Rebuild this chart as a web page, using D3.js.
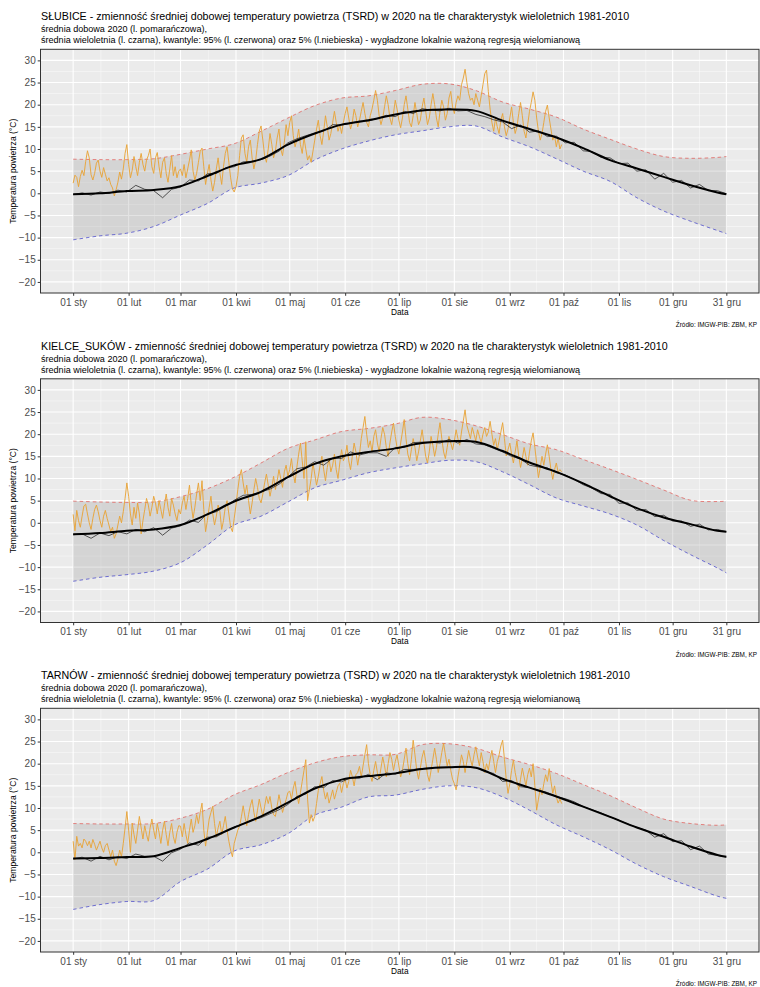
<!DOCTYPE html>
<html>
<head>
<meta charset="utf-8">
<script src="https://cdn.jsdelivr.net/npm/d3@7"></script>
<style>
  body { margin: 0; background: #fff; }
  svg { display: block; }
  text { font-family: "Liberation Sans", Arial, Helvetica, sans-serif; }
</style>
</head>
<body>
<svg id="chart" width="760" height="987"></svg>
<script>
// ---- data -------------------------------------------------------------
const stationNames = ["SŁUBICE", "KIELCE_SUKÓW", "TARNÓW"];

const tickDates = ["2020-01-01","2020-02-01","2020-03-01","2020-04-01","2020-05-01","2020-06-01",
  "2020-07-01","2020-08-01","2020-09-01","2020-10-01","2020-11-01","2020-12-01","2020-12-31"];
const tickLabels = ["01 sty","01 lut","01 mar","01 kwi","01 maj","01 cze",
  "01 lip","01 sie","01 wrz","01 paź","01 lis","01 gru","31 gru"];
const yTicks = [-20, -15, -10, -5, 0, 5, 10, 15, 20, 25, 30];

// day-of-year offsets (from 1 Jan) of the smoothed / quantile knots and of the multi-year daily means
const knotDays = [0,15,30,45,60,75,90,105,120,135,150,165,180,195,210,225,240,255,270,285,300,315,330,345,360,365];
const meanDays = d3.range(0, 366, 5);

// daily mean temperature 2020 (1 Jan - 30 Sep)
const slubiceDaily2020 = [
  2.3,4.1,3.6,1.5,3.8,5.2,4.0,7.2,9.6,8.0,4.2,3.0,4.5,6.8,7.5,5.0,3.6,5.8,4.3,2.8,3.5,2.0,1.2,-0.6,0.8,2.5,4.8,3.2,5.5,9.0,11.0,
  6.5,3.5,5.2,8.3,6.0,4.0,7.0,9.0,6.5,5.0,7.5,8.5,10.0,6.0,4.5,8.0,9.2,6.0,3.5,7.0,8.0,4.5,2.5,5.5,8.5,4.0,6.0,3.5,5.0,
  5.5,4.0,6.5,3.5,5.5,7.5,9.8,5.0,3.0,4.5,7.0,9.5,10.2,6.0,2.0,4.5,6.5,3.0,0.5,2.5,5.5,8.0,4.5,2.0,6.0,9.0,10.5,7.0,3.5,1.0,0.3,
  1.5,4.0,8.5,12.5,13.2,9.0,7.0,10.5,12.0,8.0,5.5,7.5,11.0,14.0,15.2,12.0,8.5,7.0,10.0,13.5,11.0,8.0,9.5,12.5,14.5,10.0,8.5,11.5,15.5,13.0,
  16.0,17.5,13.0,10.5,12.0,14.5,11.0,9.0,12.5,10.0,7.5,8.5,7.0,9.5,12.0,14.5,16.5,13.0,11.0,14.0,17.5,15.0,12.0,13.5,16.0,18.5,16.0,14.0,15.5,13.5,16.0,
  18.0,19.5,17.0,14.5,16.0,19.0,17.5,15.0,16.5,18.5,20.5,18.0,16.0,15.0,17.5,19.0,21.0,23.2,21.0,17.5,15.5,17.0,19.5,22.0,20.0,17.0,15.5,18.0,21.0,19.0,
  16.5,14.8,17.0,20.0,22.0,19.0,16.0,15.0,17.5,20.5,18.0,15.5,16.5,19.5,21.5,18.5,15.5,17.0,20.0,22.5,20.0,17.0,15.0,18.5,21.0,19.5,16.5,18.0,21.5,23.0,19.5,
  18.0,20.5,22.0,21.0,24.5,26.0,28.0,25.0,22.5,21.0,21.5,20.0,22.5,21.0,19.5,22.0,24.5,27.0,27.8,23.0,19.0,16.0,14.0,17.0,15.0,13.5,16.5,18.0,15.0,13.0,14.5,
  17.0,19.5,16.0,13.5,15.0,18.0,20.5,17.5,14.0,12.5,15.5,18.5,20.5,22.9,21.0,17.0,14.0,12.0,13.5,16.0,18.5,19.9,17.0,14.5,12.0,13.0,10.5,12.5,10.0,11.0
];
const kielceDaily2020 = [
  1.9,-1.8,2.8,0.5,-1.0,1.5,3.8,4.2,2.0,0.0,-1.5,1.0,3.0,4.0,2.5,0.5,-1.0,1.5,2.8,1.0,-0.5,-2.0,-1.0,-3.5,-2.5,-0.5,1.5,0.0,2.5,5.5,9.0,
  6.0,2.0,-0.5,3.5,1.0,4.5,2.0,-2.5,0.5,3.0,5.5,4.0,1.5,3.5,6.0,4.5,2.0,5.0,3.0,1.0,4.0,6.5,3.5,1.5,5.5,4.0,2.0,0.5,3.0,
  2.0,4.5,6.0,3.0,5.5,8.5,4.0,1.0,3.5,6.5,9.0,5.0,9.5,3.0,-2.0,0.5,3.5,6.0,2.0,-0.5,1.5,4.0,2.5,-1.5,0.5,3.5,5.0,2.0,-1.0,-2.0,1.0,
  4.0,7.5,10.5,12.0,9.0,6.5,8.5,5.0,2.0,4.5,7.5,10.0,8.0,5.5,4.5,6.5,9.0,11.0,8.5,6.0,8.0,10.5,7.5,9.5,12.0,10.0,8.0,11.5,13.0,10.5,
  12.0,14.5,11.0,9.0,12.5,15.5,18.0,14.0,10.0,18.3,5.0,7.5,10.0,13.5,11.0,8.5,10.5,13.0,15.0,12.0,9.5,12.5,14.5,11.5,13.0,15.5,12.0,10.0,13.5,16.5,14.0,
  15.0,17.5,14.0,12.0,15.0,18.0,16.0,13.0,15.5,19.0,21.5,24.0,20.0,17.0,18.5,16.0,19.5,21.0,18.0,16.0,19.0,21.5,20.0,17.0,15.0,18.0,20.5,22.5,19.5,17.0,
  15.5,18.0,20.5,23.3,19.0,15.5,14.0,16.5,19.0,17.0,14.0,16.0,18.5,21.0,18.0,15.0,13.5,16.0,19.5,17.5,15.0,17.0,20.0,22.6,19.0,16.0,14.5,17.0,19.5,18.0,16.5,
  18.5,21.0,19.0,17.5,20.5,23.0,25.5,22.0,20.5,19.0,21.5,20.0,18.5,21.0,19.5,18.0,20.0,21.5,19.5,20.5,22.9,20.0,17.5,19.0,16.5,18.5,20.5,22.6,19.0,15.1,16.5,
  18.0,15.5,13.5,16.0,18.5,15.0,12.5,14.5,17.0,15.0,13.0,16.0,18.5,20.3,17.0,13.5,10.2,12.5,15.0,13.0,15.5,17.6,15.0,12.0,9.8,12.0,13.5,11.4,12.0,11.5
];
const tarnowDaily2020 = [
  2.5,-1.7,3.6,1.4,2.0,1.0,3.0,2.5,1.5,2.5,1.0,2.9,1.8,0.5,1.5,2.5,1.0,0.0,1.5,2.0,0.5,-1.0,0.5,-2.0,-3.0,-1.5,0.5,-1.0,2.0,5.5,9.2,
  5.0,0.0,6.6,4.0,2.0,5.0,8.1,5.5,3.0,6.0,4.0,2.5,5.5,7.5,5.0,3.0,6.5,4.5,2.0,5.0,7.0,4.0,1.5,4.5,6.5,3.5,2.0,4.5,6.0,
  5.9,3.5,6.5,4.0,2.0,5.0,7.5,4.5,6.0,8.5,6.5,9.0,11.1,5.0,1.4,4.5,7.5,9.0,10.4,6.5,3.5,5.5,7.0,4.0,6.0,8.1,5.0,2.5,0.5,-1.0,2.0,
  3.5,5.0,5.9,8.0,10.5,8.0,6.0,8.5,10.5,11.9,9.0,7.0,9.5,12.0,10.0,8.0,10.4,12.6,11.0,12.6,10.0,8.5,8.1,10.5,13.0,11.0,9.0,10.5,11.9,13.5,
  13.8,12.0,14.5,16.0,13.0,11.0,13.5,16.0,18.5,20.9,12.0,6.6,8.5,7.0,8.1,11.0,14.0,15.5,17.1,14.0,12.0,13.5,11.1,12.5,14.1,12.0,13.5,15.0,15.6,13.5,15.5,
  16.5,14.5,16.0,18.5,17.1,15.0,17.5,18.0,19.4,17.0,19.5,22.0,24.3,20.0,17.5,16.0,18.5,20.5,18.0,16.5,19.0,21.5,19.5,17.0,20.0,22.5,21.0,18.5,20.5,22.0,
  19.5,17.0,18.5,21.0,23.5,20.0,17.5,21.0,25.3,22.0,18.5,16.5,19.0,21.5,23.0,20.5,17.5,16.0,18.5,21.0,23.5,21.0,18.0,20.0,22.5,24.6,22.0,19.5,21.0,18.5,16.5,
  15.5,14.1,17.0,19.5,22.0,20.5,18.0,20.5,23.0,21.0,19.5,22.0,23.8,21.5,19.5,22.5,20.5,18.0,20.0,18.6,21.0,23.0,20.5,18.0,20.5,22.0,24.0,25.3,21.0,16.5,13.3,
  15.5,18.5,20.8,18.0,16.0,14.1,16.5,19.0,17.0,15.0,17.5,19.0,17.0,20.0,15.0,9.5,12.0,14.5,13.0,15.5,17.5,16.0,18.9,16.0,13.3,15.0,12.5,11.1,12.0,11.0
];

// multi-year (1981-2010) daily mean, every 5th day of the year
const slubiceMean = [
  -0.3,0.1,-0.4,0.3,0.0,0.7,0.3,1.8,0.9,0.6,-1.0,0.9,1.4,3.0,2.8,4.4,4.5,5.7,6.0,7.1,7.2,7.6,8.4,9.5,11.4,12.3,13.0,13.6,14.0,15.5,
  15.4,15.8,16.3,16.3,16.9,17.6,17.3,18.5,18.0,19.1,18.8,18.6,19.2,18.6,18.7,17.8,17.3,16.6,16.1,14.6,15.4,13.8,14.1,12.8,12.9,11.4,
  11.5,9.6,9.4,8.1,8.0,6.7,6.8,5.0,5.3,3.2,4.5,2.5,2.9,1.2,2.0,0.6,0.6,-0.1
];
const kielceMean = [
  -2.7,-2.5,-3.5,-2.3,-2.9,-2.0,-2.5,-1.5,-2.0,-1.1,-2.8,-1.2,-0.7,0.6,0.1,2.1,2.5,3.7,5.1,6.2,6.4,7.0,7.6,8.7,10.3,12.2,12.6,13.8,13.0,14.6,
  14.5,16.0,15.3,15.8,15.8,15.0,17.0,17.0,18.1,18.2,18.2,18.0,18.8,18.0,18.8,17.8,17.6,16.8,16.0,15.0,14.4,13.0,12.6,12.4,11.3,10.8,
  9.8,8.6,7.8,6.6,6.4,4.4,4.5,2.8,3.0,1.4,1.7,0.4,0.4,-0.8,-0.3,-1.6,-1.5,-2.0
];
const tarnowMean = [
  -1.5,-1.1,-2.0,-0.9,-1.7,-1.0,-1.4,-0.4,-0.9,-0.9,-2.0,-0.1,0.7,2.1,1.6,3.4,3.5,4.6,5.7,6.5,7.3,7.8,8.7,9.6,10.8,12.6,13.2,14.8,14.6,16.2,
  15.9,16.8,16.7,17.6,16.4,17.9,17.7,18.7,18.7,18.9,19.1,19.2,19.2,19.2,19.2,19.1,18.2,17.8,16.0,16.2,14.8,14.6,14.0,13.5,12.6,12.1,
  11.4,10.3,9.6,8.9,8.0,7.2,6.4,5.6,5.0,3.4,4.2,2.4,2.6,0.6,1.4,-0.4,-0.7,-1.1
];

// LOESS-smoothed multi-year mean at the knot days
const slubiceSmooth = [-0.2,0.0,0.5,0.75,1.6,3.9,6.3,7.7,11.0,13.5,15.5,16.5,17.8,18.7,18.9,18.6,16.4,14.5,12.6,10.2,7.5,5.6,3.7,1.8,0.2,-0.2];
const kielceSmooth  = [-2.6,-2.3,-1.8,-1.5,-0.5,1.9,4.8,7.0,10.3,13.3,15.0,16.0,16.8,18.0,18.4,18.3,16.2,13.6,11.5,8.9,6.0,3.3,1.2,-0.3,-1.8,-2.0];
const tarnowSmooth  = [-1.4,-1.3,-1.05,-0.9,1.0,3.0,5.6,8.1,11.2,14.4,16.4,17.2,17.8,18.8,19.2,19.1,16.6,14.6,12.6,10.3,8.0,5.6,3.5,1.3,-0.6,-1.0];

// smoothed 95% quantile at the knot days
const slubiceQ95 = [7.7,7.6,7.6,7.8,8.8,10.0,11.2,14.0,17.0,19.8,21.5,22.0,23.2,24.6,24.7,23.2,20.6,19.0,17.2,14.5,12.2,10.0,8.3,7.9,8.1,8.3];
const kielceQ95  = [4.9,4.7,4.6,4.7,5.9,7.7,10.3,13.5,16.8,18.7,20.6,21.3,22.3,23.8,23.3,21.9,19.9,17.8,16.5,14.3,12.1,9.8,7.4,5.1,4.8,4.9];
const tarnowQ95  = [6.5,6.4,6.4,6.5,7.7,9.7,13.0,15.3,18.0,20.2,21.6,22.0,22.1,24.3,24.5,23.5,21.5,19.8,17.8,15.3,12.8,10.0,7.5,6.5,6.1,6.2];

// smoothed 5% quantile at the knot days
const slubiceQ5 = [-10.5,-9.6,-9.0,-7.5,-4.9,-2.3,1.2,2.3,4.0,7.5,10.0,11.8,13.2,14.1,15.0,15.2,12.7,10.5,7.8,5.0,2.7,-1.0,-4.0,-6.3,-8.4,-9.1];
const kielceQ5  = [-13.2,-12.3,-11.7,-10.9,-9.0,-5.0,-0.5,1.5,4.7,7.9,9.6,11.3,12.4,13.3,14.1,13.8,11.5,8.6,5.6,3.8,2.0,-0.5,-4.0,-7.2,-10.2,-11.3];
const tarnowQ5  = [-12.9,-11.8,-11.1,-10.9,-6.6,-3.8,0.3,1.7,4.2,8.4,10.2,12.5,12.9,14.2,15.0,14.6,12.5,9.5,6.2,3.5,0.6,-2.7,-5.5,-7.7,-9.9,-10.4];

// ---- drawing ---------------------------------------------------------
const stations = [
  { name: stationNames[0], daily: slubiceDaily2020, mean: slubiceMean, smooth: slubiceSmooth, q95: slubiceQ95, q5: slubiceQ5 },
  { name: stationNames[1], daily: kielceDaily2020,  mean: kielceMean,  smooth: kielceSmooth,  q95: kielceQ95,  q5: kielceQ5 },
  { name: stationNames[2], daily: tarnowDaily2020,  mean: tarnowMean,  smooth: tarnowSmooth,  q95: tarnowQ95,  q5: tarnowQ5 }
];

const svg = d3.select("#chart");
const jan1 = new Date(2020, 0, 1);
const dec31 = new Date(2020, 11, 31);
const dayDate = d => d3.timeDay.offset(jan1, d);
const pad = (dec31 - jan1) * 0.05;

const plotLeft = 40.5, plotRight = 759, plotHeight = 243.7;
const panelStep = 329.5, firstTop = 49.3;

const x = d3.scaleTime()
  .domain([new Date(+jan1 - pad), new Date(+dec31 + pad)])
  .range([plotLeft, plotRight]);

const majorDates = tickDates.map(s => { const p = s.split("-"); return new Date(+p[0], +p[1] - 1, +p[2]); });
const minorDates = d3.pairs(majorDates).map(([a, b]) => new Date((+a + +b) / 2));

const subtitle1 = "średnia dobowa 2020 (l. pomarańczowa),";
const subtitle2 = "średnia wieloletnia (l. czarna), kwantyle: 95% (l. czerwona) oraz 5% (l.niebieska) - wygładzone lokalnie ważoną regresją wielomianową";

stations.forEach((st, i) => {
  const top = firstTop + i * panelStep;
  const bottom = top + plotHeight;
  const y = d3.scaleLinear().domain([-22.5, 32.5]).range([bottom, top]);
  const g = svg.append("g");

  // titles
  g.append("text").attr("x", 41).attr("y", top - 29.3)
    .attr("font-size", 10.7).attr("fill", "#000")
    .text(st.name + " - zmienność średniej dobowej temperatury powietrza (TSRD) w 2020 na tle charakterystyk wieloletnich 1981-2010");
  g.append("text").attr("x", 41).attr("y", top - 17.2)
    .attr("font-size", 9.05).attr("fill", "#000").text(subtitle1);
  g.append("text").attr("x", 41).attr("y", top - 6.0)
    .attr("font-size", 9.05).attr("fill", "#000").text(subtitle2);

  // panel background
  g.append("rect").attr("x", plotLeft).attr("y", top)
    .attr("width", plotRight - plotLeft).attr("height", plotHeight).attr("fill", "#EBEBEB");

  // grid lines
  const minorY = d3.range(-17.5, 30, 5);
  g.append("g").selectAll("line").data(minorY).join("line")
    .attr("x1", plotLeft).attr("x2", plotRight)
    .attr("y1", d => y(d)).attr("y2", d => y(d))
    .attr("stroke", "#fff").attr("stroke-width", 0.5).attr("opacity", 0.9);
  g.append("g").selectAll("line").data(minorDates).join("line")
    .attr("y1", top).attr("y2", bottom)
    .attr("x1", d => x(d)).attr("x2", d => x(d))
    .attr("stroke", "#fff").attr("stroke-width", 0.5).attr("opacity", 0.9);
  g.append("g").selectAll("line").data(yTicks).join("line")
    .attr("x1", plotLeft).attr("x2", plotRight)
    .attr("y1", d => y(d)).attr("y2", d => y(d))
    .attr("stroke", "#fff").attr("stroke-width", 1.1);
  g.append("g").selectAll("line").data(majorDates).join("line")
    .attr("y1", top).attr("y2", bottom)
    .attr("x1", d => x(d)).attr("x2", d => x(d))
    .attr("stroke", "#fff").attr("stroke-width", 1.1);

  const clipId = "clip" + i;
  g.append("clipPath").attr("id", clipId).append("rect")
    .attr("x", plotLeft).attr("y", top).attr("width", plotRight - plotLeft).attr("height", plotHeight);
  const plot = g.append("g").attr("clip-path", `url(#${clipId})`);

  const smoothCurve = d3.curveCatmullRom.alpha(0.5);
  const knots = knotDays.map((d, k) => ({ date: dayDate(d), lo: st.q5[k], hi: st.q95[k], mid: st.smooth[k] }));

  // quantile band
  plot.append("path").datum(knots)
    .attr("d", d3.area().x(d => x(d.date)).y0(d => y(d.lo)).y1(d => y(d.hi)).curve(smoothCurve))
    .attr("fill", "#8c8c8c").attr("fill-opacity", 0.24);

  // 95% and 5% quantiles
  plot.append("path").datum(knots)
    .attr("d", d3.line().x(d => x(d.date)).y(d => y(d.hi)).curve(smoothCurve))
    .attr("fill", "none").attr("stroke", "#e2453f").attr("stroke-opacity", 0.7)
    .attr("stroke-width", 0.9).attr("stroke-dasharray", "3.5,3");
  plot.append("path").datum(knots)
    .attr("d", d3.line().x(d => x(d.date)).y(d => y(d.lo)).curve(smoothCurve))
    .attr("fill", "none").attr("stroke", "#3535c8").attr("stroke-opacity", 0.75)
    .attr("stroke-width", 0.9).attr("stroke-dasharray", "3.5,3");

  // 2020 daily means
  plot.append("path").datum(st.daily)
    .attr("d", d3.line().x((v, k) => x(dayDate(k))).y(v => y(v)))
    .attr("fill", "none").attr("stroke", "#e8a43a").attr("stroke-width", 0.95);

  // multi-year daily mean
  plot.append("path").datum(st.mean)
    .attr("d", d3.line().x((v, k) => x(dayDate(meanDays[k]))).y(v => y(v)))
    .attr("fill", "none").attr("stroke", "#222").attr("stroke-width", 0.75);

  // smoothed multi-year mean
  plot.append("path").datum(knots)
    .attr("d", d3.line().x(d => x(d.date)).y(d => y(d.mid)).curve(smoothCurve))
    .attr("fill", "none").attr("stroke", "#000").attr("stroke-width", 2);

  // panel border
  g.append("rect").attr("x", plotLeft).attr("y", top)
    .attr("width", plotRight - plotLeft).attr("height", plotHeight)
    .attr("fill", "none").attr("stroke", "#333").attr("stroke-width", 1);

  // y axis
  const yAxis = g.append("g").attr("transform", `translate(${plotLeft},0)`)
    .call(d3.axisLeft(y).tickValues(yTicks).tickSize(2.8).tickPadding(2).tickFormat(d3.format("d")));
  yAxis.select(".domain").remove();
  yAxis.selectAll(".tick line").attr("stroke", "#333");
  yAxis.selectAll(".tick text").attr("fill", "#4d4d4d").attr("font-size", 10)
    .attr("font-family", "Liberation Sans, Arial, sans-serif");

  // x axis
  const xAxis = g.append("g").attr("transform", `translate(0,${bottom})`)
    .call(d3.axisBottom(x).tickValues(majorDates).tickSize(2.8).tickPadding(3)
      .tickFormat((d, k) => tickLabels[k]));
  xAxis.select(".domain").remove();
  xAxis.selectAll(".tick line").attr("stroke", "#333");
  xAxis.selectAll(".tick text").attr("fill", "#4d4d4d").attr("font-size", 10)
    .attr("font-family", "Liberation Sans, Arial, sans-serif");

  // axis titles and source note
  g.append("text").attr("x", (plotLeft + plotRight) / 2).attr("y", bottom + 21.5)
    .attr("text-anchor", "middle").attr("font-size", 8.3).attr("fill", "#000").text("Data");
  g.append("text")
    .attr("transform", `translate(16,${top + plotHeight / 2}) rotate(-90)`)
    .attr("text-anchor", "middle").attr("font-size", 8.6).attr("fill", "#000")
    .text("Temperatura powietrza (°C)");
  g.append("text").attr("x", 757).attr("y", bottom + 34)
    .attr("text-anchor", "end").attr("font-size", 6.4).attr("fill", "#000")
    .text("Źródło: IMGW-PIB: ZBM, KP");
});
</script>
</body>
</html>
